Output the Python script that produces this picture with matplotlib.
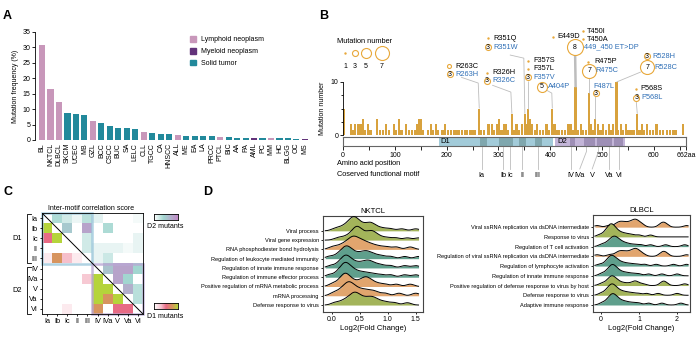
import numpy as np
import matplotlib.pyplot as plt
from matplotlib.colors import LinearSegmentedColormap
from matplotlib.patches import Rectangle
from matplotlib.lines import Line2D

plt.rcParams['font.family'] = ['Liberation Sans', 'DejaVu Sans']
plt.rcParams['font.size'] = 5
plt.rcParams['axes.linewidth'] = 0.6
for ax_name in ['xtick', 'ytick']:
    plt.rcParams[ax_name + '.major.width'] = 0.6
    plt.rcParams[ax_name + '.minor.width'] = 0.6
    plt.rcParams[ax_name + '.major.size'] = 2
    plt.rcParams[ax_name + '.minor.size'] = 1.5
    plt.rcParams[ax_name + '.major.pad'] = 1.5
    plt.rcParams[ax_name + '.labelsize'] = 5

W, H = 697, 343

# ---------------- A: mutation frequency per cancer type ----------------
cancer_types = ['BL', 'NKTCL', 'DLBCL', 'SKCM', 'UCEC', 'MB', 'GZL', 'BCC', 'CSCC', 'BUC',
                'SA', 'LELC', 'CLL', 'TGCC', 'CA', 'HNSCC', 'ALL', 'ME', 'EA', 'LA',
                'PRCC', 'PTCL', 'BIC', 'AA', 'PA', 'AML', 'PC', 'MM', 'HC', 'BLGG', 'OC', 'MS']
mut_freq = [30.8, 16.5, 12.4, 8.7, 8.4, 8.1, 6.1, 5.5, 4.6, 3.9,
            3.9, 3.6, 2.6, 2.3, 2.0, 2.0, 1.6, 1.3, 1.3, 1.3,
            1.3, 1.0, 1.0, 0.7, 0.7, 0.7, 0.7, 0.7, 0.7, 0.7, 0.4, 0.4]
# L = lymphoid, M = myeloid, S = solid
tumor_class = ['L', 'L', 'L', 'S', 'S', 'S', 'L', 'S', 'S', 'S',
               'S', 'S', 'L', 'S', 'S', 'S', 'L', 'S', 'S', 'S',
               'S', 'L', 'S', 'S', 'S', 'M', 'S', 'L', 'S', 'S', 'S', 'M']
class_names = {'L': 'Lymphoid neoplasm', 'M': 'Myeloid neoplasm', 'S': 'Solid tumor'}
class_colors = {'L': '#c897ba', 'M': '#62337a', 'S': '#22899b'}

# ---------------- B: mutation landscape along the protein ----------------
mut_pos = [2, 15, 19, 23, 29, 34, 39, 42, 48, 53, 66, 71, 77, 83, 89, 98, 102, 108, 113,
           122, 127, 133, 139, 143, 147, 150, 155, 164, 170, 174, 180, 183, 192, 197, 203,
           208, 214, 219, 224, 230, 235, 240, 245, 250, 255, 263, 267, 272, 281, 287, 291,
           297, 301, 306, 311, 315, 319, 326, 330, 335, 340, 345, 351, 354, 357, 361, 365,
           370, 375, 380, 386, 393, 398, 404, 408, 412, 417, 422, 428, 435, 440, 444, 449,
           454, 459, 463, 469, 475, 479, 483, 487, 492, 497, 502, 508, 513, 517, 521, 528,
           531, 536, 541, 546, 551, 557, 562, 568, 572, 577, 581, 587, 593, 598, 605, 612,
           618, 625, 631, 638, 643, 656]
mut_count = [5, 2, 1, 2, 2, 2, 3, 1, 2, 1, 3, 1, 1, 2, 1, 2, 1, 3, 1,
             2, 1, 1, 1, 2, 3, 3, 1, 1, 2, 1, 2, 1, 1, 2, 1,
             1, 1, 1, 1, 1, 1, 1, 1, 1, 1, 5, 1, 1, 2, 2, 1,
             2, 3, 1, 2, 2, 1, 4, 1, 2, 1, 2, 4, 2, 5, 3, 2,
             1, 2, 1, 1, 2, 1, 5, 2, 1, 1, 1, 1, 2, 2, 1, 9,
             1, 2, 1, 1, 8, 2, 1, 3, 2, 1, 2, 1, 2, 1, 2, 10,
             1, 2, 1, 2, 1, 1, 1, 4, 1, 2, 1, 2, 1, 1, 2, 1,
             1, 1, 1, 1, 1, 2]

# (label, text x, text y, marker x, marker y, cases)
mut_labels = [
    ('R263C', 216, 13.0, 205, 13.0, 2),
    ('R263H', 216, 11.5, 206, 11.5, 3),
    ('R326H', 288, 11.7, 278, 11.7, 1),
    ('R326C', 288, 10.2, 278, 10.2, 3),
    ('R351Q', 290, 18.3, 279, 18.3, 1),
    ('R351W', 290, 16.6, 280, 16.6, 3),
    ('F357S', 367, 14.0, 357, 14.0, 1),
    ('F357L', 367, 12.5, 357, 12.5, 1),
    ('F357V', 367, 10.9, 357, 10.9, 3),
    ('A404P', 396, 9.1, 384, 9.1, 5),
    ('E449D', 413, 18.5, 405, 18.5, 1),
    ('T450I', 471, 19.6, 463, 19.6, 1),
    ('T450A', 471, 18.1, 463, 18.1, 1),
    ('449_450 ET>DP', 466, 16.6, 448, 16.6, 8),
    ('R475P', 486, 13.8, 473, 13.8, 1),
    ('R475C', 488, 12.1, 475, 12.1, 7),
    ('F487L', 483, 9.2, 488, 7.9, 3),
    ('R528H', 598, 14.9, 587, 14.9, 3),
    ('R528C', 600, 12.8, 587, 12.8, 7),
    ('P568S', 573, 8.7, 566, 8.7, 1),
    ('P568L', 575, 7.0, 566, 7.0, 3),
]
# leader lines: hotspot position and bend points above it
leaders = [
    (263, [(228, 10.9), (261, 9.8)]),
    (326, [(288, 9.4), (324, 8.1)]),
    (351, [(322, 15.1), (349, 14.5)]),
    (357, [(357, 10.2)]),
    (404, [(392, 8.5), (403, 7.9)]),
    (449, [(448, 15.2)]),
    (475, [(475, 11.0)]),
    (487, [(487, 7.3)]),
    (528, [(575, 11.9)]),
    (568, [(566, 6.3)]),
]

domains = [('D1', 185, 405, '#a2cbd9', '#7fa7ae'), ('D2', 410, 545, '#c3b5d8', '#9e8fb6')]
motif_spans = [(264, 278), (301, 328), (340, 353), (371, 384),
               (438, 448), (465, 486), (490, 520), (524, 541)]
motifs = ['Ia', 'Ib', 'Ic', 'II', 'III', 'IV', 'IVa', 'V', 'Va', 'VI']
motif_site = [268, 309, 322, 346, 376, 440, 470, 493, 513, 533]
motif_label_x = [268, 309, 322, 346, 376, 440, 457, 481, 513, 533]

# ---------------- C: inter-motif correlation (lower = D1, upper = D2) ----------------
corr = [
    [0.0, 0.35, 0.2, 0.08, 0.3, 0.12, 0.0, 0.0, 0.0, 0.05],
    [1.0, 0.0, 0.5, 0.0, 0.8, 0.0, 0.35, 0.0, 0.0, 0.0],
    [0.5, 1.0, 0.0, 0.0, 0.2, 0.0, 0.0, 0.0, 0.0, 0.1],
    [0.0, 0.0, 0.0, 0.0, 0.2, 0.1, 0.1, 0.1, 0.05, 0.1],
    [0.1, 0.75, 0.3, 0.1, 0.0, 0.1, 0.22, 0.0, 0.0, 0.0],
    [0.0, 0.0, 0.0, 0.0, 0.0, 0.0, 0.55, 0.8, 0.8, 0.4],
    [0.0, 0.0, 0.0, 0.0, 0.25, 1.0, 0.0, 0.8, 0.4, 0.0],
    [0.0, 0.0, 0.0, 0.0, 0.0, 1.0, 1.0, 0.0, 0.7, 0.3],
    [0.0, 0.0, 0.0, 0.0, 0.0, 1.0, 0.75, 1.0, 0.0, 0.3],
    [0.0, 0.0, 0.1, 0.0, 0.0, 0.75, 0.0, 0.5, 0.5, 0.0],
]

# ---------------- D: log2 fold change of enriched GO terms ----------------
GREEN, ORANGE, TEAL = '#a3b45a', '#e1a56e', '#5f9f8c'
nk_terms = ['Viral process', 'Viral gene expression', 'RNA phosphodiester bond hydrolysis',
            'Regulation of leukocyte mediated immunity', 'Regulation of innate immune response',
            'Regulation of immune effector process',
            'Positive regulation of mRNA metabolic process', 'mRNA processing',
            'Defense response to virus']
nk_colors = [GREEN, GREEN, ORANGE, TEAL, TEAL, TEAL, ORANGE, ORANGE, GREEN]
nk_fc = [
    [0.05, 0.15, 0.22, 0.27, 0.31, 0.34, 0.36, 0.38, 0.4, 0.42, 0.44, 0.47, 0.5, 0.55, 0.6, 0.65, 0.68, 0.71, 0.75, 0.82, 0.92, 1.05, 1.25, 1.5],
    [0.1, 0.22, 0.3, 0.36, 0.4, 0.42, 0.44, 0.46, 0.48, 0.51, 0.55, 0.6, 0.65, 0.69, 0.72, 0.75, 0.8, 0.88, 1.0, 1.15, 1.35, 1.55],
    [0.0, 0.12, 0.2, 0.26, 0.3, 0.34, 0.37, 0.39, 0.42, 0.45, 0.49, 0.53, 0.57, 0.62, 0.68, 0.75, 0.85, 0.98, 1.15, 1.4],
    [-0.05, 0.08, 0.15, 0.19, 0.22, 0.25, 0.27, 0.29, 0.32, 0.36, 0.41, 0.47, 0.53, 0.58, 0.62, 0.66, 0.72, 0.8, 0.9, 1.05, 1.3, 1.55],
    [-0.03, 0.1, 0.16, 0.2, 0.23, 0.25, 0.27, 0.3, 0.34, 0.39, 0.45, 0.52, 0.58, 0.63, 0.67, 0.72, 0.8, 0.9, 1.05, 1.3, 1.5],
    [-0.05, 0.08, 0.14, 0.18, 0.21, 0.23, 0.25, 0.27, 0.3, 0.34, 0.38, 0.43, 0.5, 0.57, 0.65, 0.75, 0.88, 1.05, 1.3, 1.5],
    [0.0, 0.1, 0.16, 0.2, 0.22, 0.24, 0.26, 0.29, 0.33, 0.38, 0.45, 0.52, 0.57, 0.6, 0.63, 0.67, 0.73, 0.82, 0.95, 1.15, 1.4],
    [0.02, 0.12, 0.18, 0.23, 0.26, 0.29, 0.31, 0.34, 0.37, 0.41, 0.46, 0.52, 0.58, 0.65, 0.72, 0.8, 0.95, 1.2, 1.5],
    [0.05, 0.17, 0.24, 0.3, 0.34, 0.37, 0.4, 0.42, 0.45, 0.48, 0.52, 0.57, 0.62, 0.67, 0.71, 0.75, 0.8, 0.88, 0.98, 1.12, 1.35],
]
dl_terms = ['Viral ssRNA replication via dsDNA intermediate', 'Response to virus',
            'Regulation of T cell activation',
            'Regulation of viral ssRNA replication via dsDNA intermediate',
            'Regulation of lymphocyte activation', 'Regulation of innate immune response',
            'Positive regulation of defense response to virus by host',
            'Defense response to virus', 'Adaptive immune response']
dl_colors = [ORANGE, GREEN, TEAL, ORANGE, TEAL, TEAL, GREEN, GREEN, TEAL]
dl_fc = [
    [-0.1, 0.2, 0.38, 0.45, 0.5, 0.54, 0.6, 0.66, 0.72, 0.78, 0.83, 0.87, 0.9, 0.93, 0.97, 1.02, 1.1, 1.56, 1.62, 1.66, 1.72, 2.25],
    [-0.05, 0.08, 0.14, 0.18, 0.21, 0.24, 0.26, 0.28, 0.3, 0.33, 0.36, 0.4, 0.45, 0.52, 0.6, 0.7, 0.82, 1.0, 1.3],
    [0.0, 0.12, 0.2, 0.25, 0.29, 0.32, 0.35, 0.38, 0.41, 0.45, 0.5, 0.56, 0.64, 0.74, 0.88, 1.05, 1.3, 1.7, 2.2],
    [-0.1, 0.22, 0.38, 0.46, 0.5, 0.55, 0.61, 0.67, 0.73, 0.79, 0.84, 0.88, 0.91, 0.94, 0.98, 1.03, 1.12, 1.57, 1.63, 1.67, 1.73, 2.25],
    [-0.05, 0.1, 0.17, 0.21, 0.24, 0.27, 0.29, 0.32, 0.35, 0.39, 0.44, 0.5, 0.58, 0.68, 0.8, 0.95, 1.15, 1.45, 1.9, 2.25],
    [0.0, 0.12, 0.19, 0.23, 0.26, 0.29, 0.31, 0.34, 0.37, 0.41, 0.46, 0.53, 0.62, 0.72, 0.85, 1.0, 1.25, 1.6, 2.0],
    [0.0, 0.12, 0.19, 0.23, 0.26, 0.29, 0.31, 0.34, 0.38, 0.43, 0.5, 0.6, 0.72, 0.85, 0.9, 0.95, 1.1, 1.6, 1.65, 1.7, 2.2],
    [0.0, 0.12, 0.18, 0.22, 0.25, 0.28, 0.3, 0.33, 0.36, 0.4, 0.45, 0.52, 0.6, 0.7, 0.82, 0.98, 1.2, 1.5, 2.0],
    [0.02, 0.14, 0.2, 0.24, 0.27, 0.3, 0.32, 0.35, 0.38, 0.42, 0.47, 0.54, 0.62, 0.72, 0.85, 1.0, 1.25, 1.6, 2.1],
]


def px_rect(x0, y0, x1, y1):
    return [x0 / W, 1 - y1 / H, (x1 - x0) / W, (y1 - y0) / H]


def fx(x):
    return x / W


def fy(y):
    return 1 - y / H


fig = plt.figure(figsize=(W / 100, H / 100), dpi=100)

for letter, (lx, ly) in zip('ABCD', [(3, 16), (319, 16), (3, 192), (203, 192)]):
    fig.text(fx(lx), fy(ly), letter, fontsize=9, fontweight='bold', va='center', ha='left')

# ---- panel A
axA = fig.add_axes(px_rect(35, 32, 310, 140))
xs = np.arange(len(cancer_types))
axA.bar(xs, mut_freq, width=0.72, color=[class_colors[c] for c in tumor_class], linewidth=0)
axA.set_xlim(-0.83, 31.6)
axA.set_ylim(0, 35)
axA.set_yticks(range(0, 36, 5))
axA.set_xticks(xs)
axA.set_xticklabels(cancer_types, rotation=90)
axA.tick_params(axis='x', length=0, pad=2)
axA.set_ylabel('Mutation frequency (%)', labelpad=2)
for s in ['top', 'right', 'bottom']:
    axA.spines[s].set_visible(False)
handles = [Rectangle((0, 0), 1, 1, color=class_colors[k]) for k in 'LMS']
axA.legend(handles, [class_names[k] for k in 'LMS'], loc='upper left',
           bbox_to_anchor=(fx(190), fy(36)), bbox_transform=fig.transFigure,
           frameon=False, handlelength=0.9, handleheight=0.9, handletextpad=0.7,
           labelspacing=0.65, borderpad=0, borderaxespad=0)

# ---- panel B
GOLD = '#d8a23d'
RING = '#e8a83a'
BLUE = '#2f6fb6'
axB = fig.add_axes(px_rect(343, 82, 686, 135))
axB.bar(mut_pos, mut_count, width=4.4, color=GOLD, linewidth=0)
axB.set_xlim(0, 662)
axB.set_ylim(0, 10)
axB.set_yticks([0, 10])
axB.set_yticks([2.5, 5, 7.5], minor=True)
axB.set_xticks([])
for s in ['top', 'right', 'bottom']:
    axB.spines[s].set_visible(False)
axB.set_ylabel('Mutation number', labelpad=3)

count_at = dict(zip(mut_pos, mut_count))
for pos, bends in leaders:
    pts = bends + [(pos, count_at[pos])]
    lw = 1.8 if pos == 449 else 0.6
    axB.plot([p[0] for p in pts], [p[1] for p in pts], color='#bdbdbd', lw=lw,
             clip_on=False, zorder=1, solid_capstyle='butt')


def case_marker(ax, x, y, n, number=True):
    if n == 1:
        ax.scatter([x], [y], s=3, color=RING, lw=0, clip_on=False, zorder=5)
        return
    d = 2.0 * n
    ax.scatter([x], [y], s=(d * 0.72) ** 2, facecolor='white', edgecolor=RING,
               lw=0.8, clip_on=False, zorder=5)
    if number and n > 2:
        ax.text(x, y, str(n), ha='center', va='center', fontsize=5, zorder=6,
                clip_on=False)


for text, tx, ty, mx, my, n in mut_labels:
    case_marker(axB, mx, my, n)
    axB.text(tx, ty, text, ha='left', va='center', fontsize=5.3,
             color=BLUE if n >= 3 else 'black', clip_on=False, zorder=6)

# size legend
axB.text(-12, 17.6, 'Mutation number', fontsize=5.3, ha='left', va='center', clip_on=False)
for n, lx in zip([1, 3, 5, 7], [4, 23, 44, 75]):
    case_marker(axB, lx, 15.5, n, number=False)
    axB.text(lx, 13.0, str(n), fontsize=5, ha='center', va='center', clip_on=False)

# domain / motif bar
axDom = fig.add_axes(px_rect(343, 137, 686, 146))
axDom.set_xlim(0, 662)
axDom.set_ylim(0, 1)
for name, start, end, col, dark in domains:
    axDom.add_patch(Rectangle((start, 0), end - start, 1, color=col, lw=0))
    for a, b in motif_spans:
        if start <= a and b <= end:
            axDom.add_patch(Rectangle((a, 0), b - a, 1, color=dark, lw=0))
    axDom.text(start + 3, 0.5, name, fontsize=5.5, va='center', ha='left')
for s in axDom.spines.values():
    s.set_color('#666666')
    s.set_linewidth(0.8)
axDom.set_yticks([])
axDom.set_xticks([0, 100, 200, 300, 400, 500, 600, 662])
axDom.set_xticklabels(['0', '100', '200', '300', '400', '500', '600', '662aa'])
axDom.set_xticks(np.arange(50, 662, 100), minor=True)
axDom.tick_params(axis='x', which='major', length=3, pad=1.5)
axDom.tick_params(axis='x', which='minor', length=3)
for site, lx, name in zip(motif_site, motif_label_x, motifs):
    axDom.plot([site, site, lx], [0, -0.6, -2.55], color='#bdbdbd', lw=0.6, clip_on=False)
    axDom.text(lx, -3.25, name, ha='center', va='center', fontsize=5.3)
fig.text(fx(337), fy(163), 'Amino acid position', fontsize=5.3, va='center')
fig.text(fx(337), fy(175), 'Coserved functional motif', fontsize=5.3, va='center')

# ---- panel C
d1_cmap = LinearSegmentedColormap.from_list(
    'd1', [(0, '#ffffff'), (0.3, '#f6bfcb'), (0.5, '#e86b86'), (0.75, '#d8945f'), (1, '#b5d43b')])
d2_cmap = LinearSegmentedColormap.from_list(
    'd2', [(0, '#ffffff'), (0.4, '#a2d6d0'), (1, '#c28ac7')])
corr_arr = np.array(corr)
rows, cols = np.indices(corr_arr.shape)
rgb = np.ones(corr_arr.shape + (4,))
rgb[rows > cols] = d1_cmap(corr_arr[rows > cols])
rgb[rows < cols] = d2_cmap(corr_arr[rows < cols])
axC = fig.add_axes(px_rect(42, 213, 143, 314))
axC.imshow(rgb, extent=(-0.5, 9.5, 9.5, -0.5), interpolation='nearest')
axC.plot([-0.5, 9.5], [-0.5, 9.5], color='black', lw=0.7)
axC.add_patch(Rectangle((-0.5, -0.5), 5, 5, fill=False, ec='#9cc7db', lw=1.8, alpha=0.8, clip_on=False))
axC.add_patch(Rectangle((4.5, 4.5), 5, 5, fill=False, ec='#b9a8d4', lw=1.8, alpha=0.8, clip_on=False))
axC.set_xlim(-0.5, 9.5)
axC.set_ylim(9.5, -0.5)
axC.set_xticks(range(10))
axC.set_xticklabels(motifs)
axC.set_yticks(range(10))
axC.set_yticklabels(motifs)
axC.tick_params(length=1.5, labelsize=5.3)
fig.text(fx(91), fy(208), 'Inter-motif correlation score', fontsize=5, ha='center', va='center')
for label, y0, y1 in [('D1', 214, 263), ('D2', 267, 314)]:
    fig.add_artist(Line2D([fx(31), fx(27), fx(27), fx(31)], [fy(y0), fy(y0), fy(y1), fy(y1)],
                          color='black', lw=0.6))
    fig.text(fx(12), fy((y0 + y1) / 2), label, fontsize=5.3, va='center')
grad = np.linspace(0, 1, 100)[None, :]
for cmap, y0, label, ly in [(d2_cmap, 214, 'D2 mutants', 227), (d1_cmap, 303, 'D1 mutants', 316)]:
    cax = fig.add_axes(px_rect(154, y0, 178, y0 + 6))
    cax.imshow(grad, cmap=cmap, aspect='auto')
    cax.set_xticks([])
    cax.set_yticks([])
    fig.text(fx(147), fy(ly), label, fontsize=5, va='center')

# ---- panel D


def ridges(ax, terms, samples, colors, x_range, bw, peak, title, xticks):
    grid = np.linspace(x_range[0], x_range[1], 500)
    dens = []
    for s in samples:
        s = np.asarray(s)
        d = np.exp(-0.5 * ((grid[:, None] - s[None, :]) / bw) ** 2).sum(axis=1)
        dens.append(d / (len(s) * bw * np.sqrt(2 * np.pi)))
    top = max(d.max() for d in dens)
    n = len(samples)
    for i, (d, c) in enumerate(zip(dens, colors)):
        base = n - 1 - i
        y = base + d / top * peak
        ax.fill_between(grid, base, y, color=c, lw=0, zorder=2 * i + 2)
        ax.plot(grid, y, color='black', lw=0.7, zorder=2 * i + 3)
    ax.set_yticks(range(n - 1, -1, -1))
    ax.set_yticklabels(terms, fontsize=4.1)
    ax.set_xticks(xticks)
    ax.tick_params(length=1.5)
    ax.set_xlabel('Log2(Fold Change)', fontsize=5.5, labelpad=1)
    ax.set_title(title, fontsize=5.5, pad=2)
    for s in ax.spines.values():
        s.set_color('#444444')
        s.set_linewidth(0.8)


axNK = fig.add_axes(px_rect(323, 216, 423, 312))
ridges(axNK, nk_terms, nk_fc, nk_colors, (-0.12, 1.55), 0.07, 1.6, 'NKTCL', [0, 0.5, 1.0, 1.5])
axNK.set_xticklabels(['0.0', '0.5', '1.0', '1.5'])
axNK.set_xlim(-0.16, 1.63)
axNK.set_ylim(-0.75, 9.6)

axDL = fig.add_axes(px_rect(593, 215, 690, 312))
ridges(axDL, dl_terms, dl_fc, dl_colors, (-0.16, 2.29), 0.08, 1.35, 'DLBCL', [0, 1, 2])
axDL.set_xlim(-0.21, 2.34)
axDL.set_ylim(-0.72, 9.25)

fig.savefig('out.png', dpi=100)
